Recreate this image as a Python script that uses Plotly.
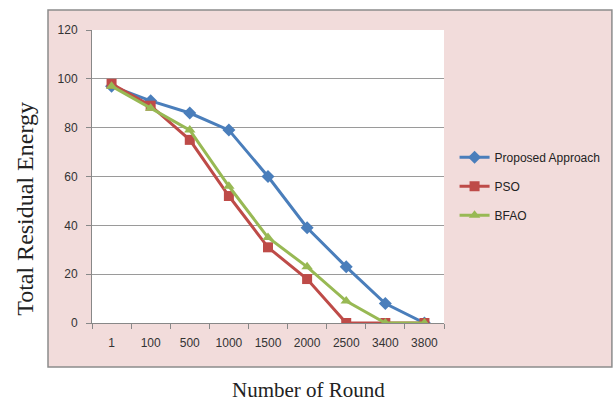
import plotly.graph_objects as go

rounds = ["1", "100", "500", "1000", "1500", "2000", "2500", "3400", "3800"]
proposed = [97, 91, 86, 79, 60, 39, 23, 8, 0]
pso = [98, 89, 75, 52, 31, 18, 0, 0, 0]
bfao = [97, 88, 79, 56, 35, 23, 9, 0, 0]

series = [
    ("Proposed Approach", proposed, "#4a7ebb", "diamond"),
    ("PSO", pso, "#be4b48", "square"),
    ("BFAO", bfao, "#98b954", "triangle-up"),
]

fig = go.Figure()
for i, (name, vals, color, sym) in enumerate(series):
    fig.add_trace(go.Scatter(
        x=rounds, y=vals, name=name, mode="lines+markers",
        line=dict(color=color, width=3),
        marker=dict(symbol=sym, size=10, color=color),
        legendgroup=f"g{i}",
    ))

tick_font = dict(family="Liberation Sans Narrow, Arial Narrow, sans-serif", size=12, color="#333")

fig.update_layout(
    width=615, height=403,
    margin=dict(l=92, r=171, t=30, b=80, autoexpand=False),
    paper_bgcolor="white",
    plot_bgcolor="white",
    showlegend=True,
    legend=dict(
        x=1.03, y=0.615, xanchor="left", yanchor="top",
        bgcolor="rgba(0,0,0,0)",
        font=dict(family="Liberation Sans Narrow, Arial Narrow, sans-serif", size=12, color="#222"),
        tracegroupgap=10, itemwidth=30,
    ),
    xaxis=dict(
        type="category", range=[-0.5, 8.5],
        showgrid=False, showline=True, linecolor="#888", linewidth=1,
        ticks="outside", tickson="boundaries", ticklen=5, tickcolor="#888",
        tickfont=tick_font, zeroline=False, ticklabelstandoff=9,
    ),
    yaxis=dict(
        range=[0, 120], tickvals=[0, 20, 40, 60, 80, 100, 120],
        showgrid=True, gridcolor="#9a9a9a", gridwidth=1,
        showline=True, linecolor="#888", linewidth=1,
        ticks="outside", ticklen=5, tickcolor="#888",
        tickfont=tick_font, zeroline=False, ticklabelstandoff=6,
    ),
    shapes=[
        dict(type="rect", xref="paper", yref="paper",
             x0=-0.125, x1=1.477, y0=-0.150, y1=1.068,
             fillcolor="#f2dcdb", line=dict(color="#8c8c8c", width=1.5),
             layer="below"),
        dict(type="rect", xref="paper", yref="paper",
             x0=0, x1=1, y0=0, y1=1,
             fillcolor="white", line=dict(width=0), layer="below"),
    ],
    annotations=[
        dict(text="Total Residual Energy", xref="paper", yref="paper",
             x=-0.19, y=0.39, textangle=-90, showarrow=False,
             xanchor="center", yanchor="middle",
             font=dict(family="Liberation Serif, Times New Roman, serif", size=24, color="#222")),
        dict(text="Number of Round", xref="paper", yref="paper",
             x=0.616, y=-0.229, showarrow=False,
             xanchor="center", yanchor="middle",
             font=dict(family="Liberation Serif, Times New Roman, serif", size=21, color="#222")),
    ],
)

fig.write_html("out.html")
